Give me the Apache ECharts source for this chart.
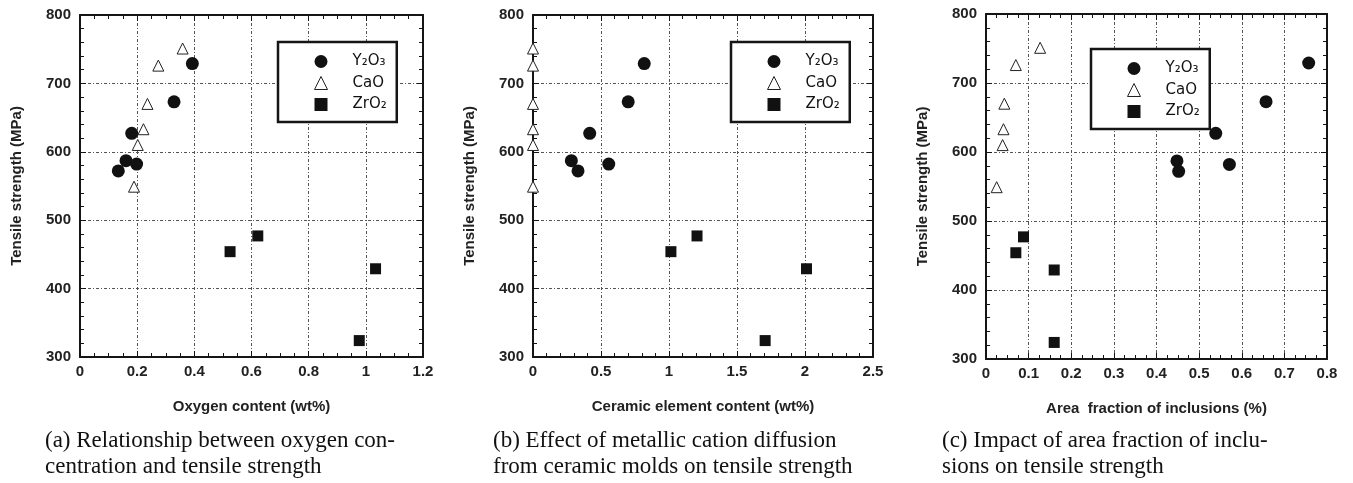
<!DOCTYPE html>
<html>
<head>
<meta charset="utf-8">
<script src="https://cdn.jsdelivr.net/npm/echarts@6/dist/echarts.min.js"></script>
<style>
html,body{margin:0;padding:0;background:#fff;}
#chart{width:1353px;height:483px;}
</style>
</head>
<body>
<div id="chart"></div>
<script>
// ---- data (tensile strength, MPa) ----
const seriesNames = ['Y\u2082O\u2083', 'CaO', 'ZrO\u2082'];
const y2o3Strength = [572, 587, 582, 627, 673, 729];
const caoStrength  = [751, 726, 670, 633, 610, 549];
const zro2Strength = [454, 477, 429, 324];

// (a) oxygen content (wt%)
const oxygenY2O3 = [0.134, 0.161, 0.198, 0.181, 0.329, 0.393];
const oxygenCaO  = [0.359, 0.274, 0.236, 0.222, 0.202, 0.189];
const oxygenZrO2 = [0.525, 0.622, 1.034, 0.977];
// (b) ceramic element content (wt%)
const ceramicY2O3 = [0.331, 0.282, 0.557, 0.417, 0.700, 0.818];
const ceramicCaO  = [0, 0, 0, 0, 0, 0];
const ceramicZrO2 = [1.014, 1.206, 2.011, 1.707];
// (c) area fraction of inclusions (%)
const areaY2O3 = [0.452, 0.448, 0.571, 0.539, 0.657, 0.757];
const areaCaO  = [0.127, 0.070, 0.043, 0.041, 0.039, 0.025];
const areaZrO2 = [0.070, 0.088, 0.160, 0.160];

const xTitles = ['Oxygen content (wt%)', 'Ceramic element content (wt%)', 'Area  fraction of inclusions (%)'];
const yTitle = 'Tensile strength (MPa)';
const xRanges = [[0, 1.2, 0.2, 4], [0, 2.5, 0.5, 5], [0, 0.8, 0.1, 4]];
const yRange = [300, 800, 100, 5];
const captions = [
  '(a) Relationship between oxygen con-\ncentration and tensile strength',
  '(b) Effect of metallic cation diffusion\nfrom ceramic molds on tensile strength',
  '(c) Impact of area fraction of inclu-\nsions on tensile strength'
];

// ---- layout ----
const grids = [
  {left: 80, top: 15, width: 343, height: 342},
  {left: 533, top: 15, width: 340, height: 342},
  {left: 986, top: 14, width: 341, height: 345}
];
const legendPos = [[278, 42], [731, 42], [1091, 49]];
const captionX = [45, 493, 942];

const pairs = (xs, ys) => xs.map((x, i) => [x, ys[i]]);
const panelData = [
  [pairs(oxygenY2O3, y2o3Strength), pairs(oxygenCaO, caoStrength), pairs(oxygenZrO2, zro2Strength)],
  [pairs(ceramicY2O3, y2o3Strength), pairs(ceramicCaO, caoStrength), pairs(ceramicZrO2, zro2Strength)],
  [pairs(areaY2O3, y2o3Strength), pairs(areaCaO, caoStrength), pairs(areaZrO2, zro2Strength)]
];

const ink = '#151515';
const labelFont = {fontFamily: 'Liberation Sans, Arial, sans-serif', fontSize: 15, fontWeight: 'bold', color: '#222'};
const gridLine = {show: true, lineStyle: {color: '#555', width: 1, type: [3, 2, 1, 2]}};

const xAxes = [], yAxes = [], series = [], legends = [], graphics = [];
grids.forEach((g, i) => {
  const [xmin, xmax, xint, xsplit] = xRanges[i];
  const common = (pos, main, isX) => ({
    type: 'value', gridIndex: i, position: pos,
    min: isX ? xmin : yRange[0], max: isX ? xmax : yRange[1],
    interval: isX ? xint : yRange[2],
    axisLine: {show: true, onZero: false, lineStyle: {color: ink, width: 2}},
    axisTick: {show: true, inside: true, length: 6, lineStyle: {color: ink, width: 1}},
    minorTick: {show: true, splitNumber: isX ? xsplit : yRange[3], length: 4, lineStyle: {color: ink, width: 1}},
    splitLine: main ? gridLine : {show: false},
    axisLabel: main ? Object.assign({show: true, margin: isX ? 7 : 9}, labelFont) : {show: false},
    name: main ? (isX ? xTitles[i] : yTitle) : '',
    nameLocation: 'middle',
    nameGap: isX ? 42 : 56,
    nameTextStyle: labelFont
  });
  xAxes.push(common('bottom', true, true));
  xAxes.push(common('top', false, true));
  yAxes.push(common('left', true, false));
  yAxes.push(common('right', false, false));

  const symbols = ['circle', 'triangle', 'rect'];
  const sizes = [13, 11, 11];
  const styles = [
    {color: '#111', opacity: 1},
    {color: '#fff', borderColor: '#222', borderWidth: 1, opacity: 1},
    {color: '#111', opacity: 1}
  ];
  seriesNames.forEach((name, k) => {
    series.push({
      type: 'scatter', name: name,
      xAxisIndex: 2 * i, yAxisIndex: 2 * i,
      symbol: symbols[k], symbolSize: sizes[k],
      itemStyle: styles[k],
      data: panelData[i][k],
      z: 5
    });
  });

  legends.push({
    orient: 'vertical',
    left: legendPos[i][0], top: legendPos[i][1],
    padding: [12, 10, 10, 36],
    itemWidth: 13, itemHeight: 13, itemGap: 6.5,
    backgroundColor: '#fff',
    borderColor: ink, borderWidth: 2.5,
    selectedMode: false,
    data: [
      {name: seriesNames[0], icon: 'circle'},
      {name: seriesNames[1], icon: 'triangle', itemStyle: {borderWidth: 1}},
      {name: seriesNames[2], icon: 'rect'}
    ],
    textStyle: {fontFamily: 'DejaVu Sans, Liberation Sans, sans-serif', fontSize: 15, color: '#111', padding: [0, 0, 0, 20]}
  });

  graphics.push({
    type: 'text', left: captionX[i], top: 428,
    style: {
      text: captions[i],
      font: '23px "Liberation Serif", "Times New Roman", serif',
      lineHeight: 26,
      fill: '#111'
    }
  });
});

const chart = echarts.init(document.getElementById('chart'), null, {renderer: 'canvas'});
chart.setOption({
  animation: false,
  backgroundColor: '#fff',
  grid: grids,
  xAxis: xAxes,
  yAxis: yAxes,
  legend: legends,
  series: series,
  graphic: graphics
});
</script>
</body>
</html>
